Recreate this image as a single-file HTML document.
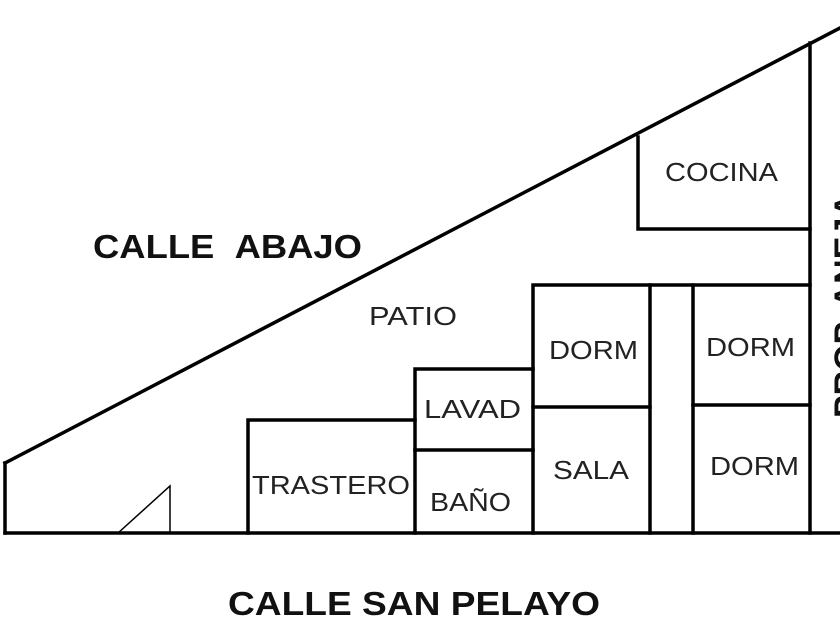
<!DOCTYPE html>
<html><head><style>
body{margin:0;background:#fff;width:840px;height:630px;overflow:hidden}
svg text{font-family:"Liberation Sans",sans-serif}
</style></head><body>
<svg width="840" height="630" xmlns="http://www.w3.org/2000/svg">
<g stroke="#000" stroke-width="3.5" fill="none" stroke-linecap="square">
<line x1="5" y1="533" x2="840" y2="533"/>
<line x1="5" y1="463" x2="5" y2="533"/>
<line x1="5" y1="463" x2="840" y2="28"/>
<line x1="810" y1="43" x2="810" y2="533"/>
<polyline points="638,137 638,229 810,229"/>
<polyline points="533,533 533,285 810,285"/>
<line x1="650" y1="285" x2="650" y2="533"/>
<line x1="693" y1="285" x2="693" y2="533"/>
<line x1="533" y1="407" x2="650" y2="407"/>
<line x1="693" y1="405" x2="810" y2="405"/>
<polyline points="415,533 415,369 533,369"/>
<line x1="415" y1="450" x2="533" y2="450"/>
<polyline points="248,533 248,420 415,420"/>
</g>
<polyline points="118,533 170,486 170,533" stroke="#000" stroke-width="1.5" fill="none"/>
<g font-size="26" fill="#222" lengthAdjust="spacingAndGlyphs">
<text x="665" y="181" textLength="113" lengthAdjust="spacingAndGlyphs">COCINA</text>
<text x="369" y="325" textLength="88" lengthAdjust="spacingAndGlyphs">PATIO</text>
<text x="549" y="359" textLength="89" lengthAdjust="spacingAndGlyphs">DORM</text>
<text x="706" y="356" textLength="89" lengthAdjust="spacingAndGlyphs">DORM</text>
<text x="424" y="418" textLength="97" lengthAdjust="spacingAndGlyphs">LAVAD</text>
<text x="553" y="479" textLength="76" lengthAdjust="spacingAndGlyphs">SALA</text>
<text x="710" y="475" textLength="89" lengthAdjust="spacingAndGlyphs">DORM</text>
<text x="252" y="494" textLength="158" lengthAdjust="spacingAndGlyphs">TRASTERO</text>
<text x="430" y="511" textLength="81" lengthAdjust="spacingAndGlyphs">BAÑO</text>
</g>
<g font-size="33" font-weight="bold" fill="#111">
<text x="93" y="258" textLength="269" lengthAdjust="spacingAndGlyphs">CALLE&#160;&#160;ABAJO</text>
<text x="228" y="615" textLength="372" lengthAdjust="spacingAndGlyphs">CALLE SAN PELAYO</text>
<text transform="translate(858,418) rotate(-90)" font-size="34">PROP. ANEJA</text>
</g>
</svg>
</body></html>
